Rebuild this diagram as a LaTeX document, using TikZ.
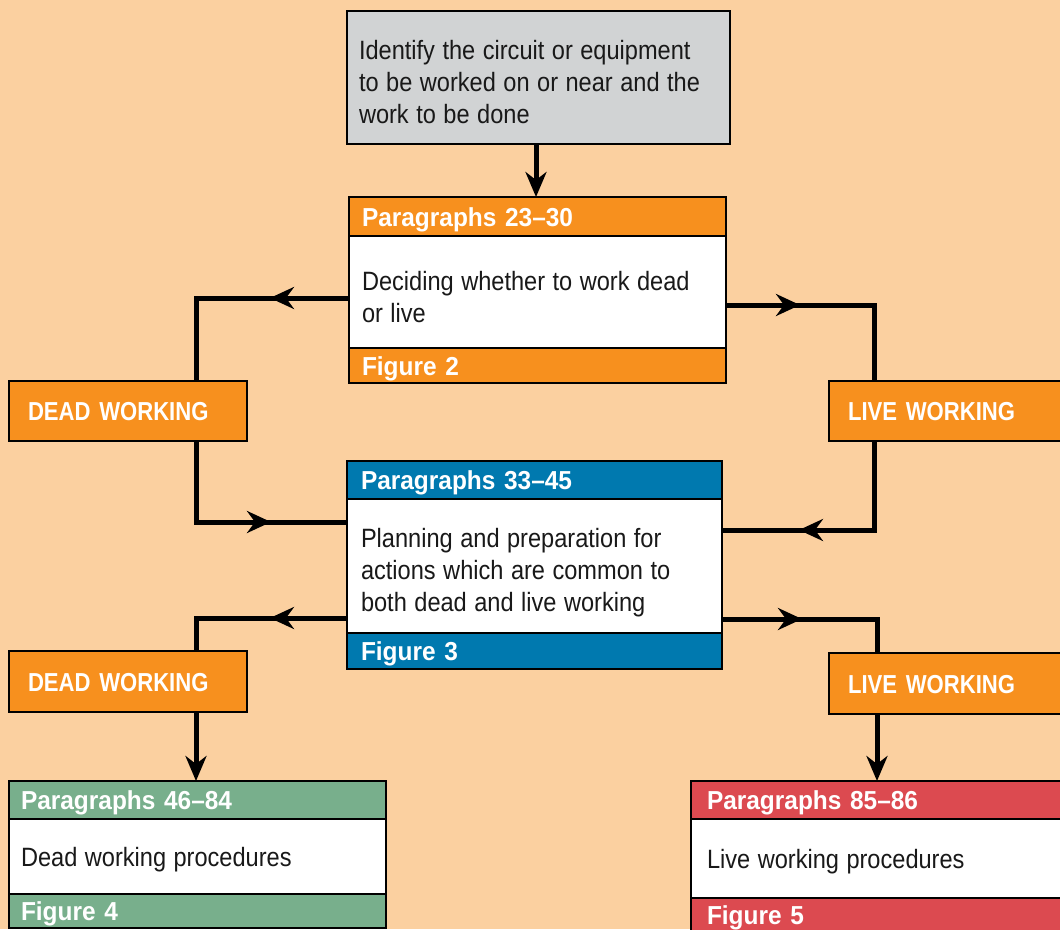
\documentclass[tikz,border=0pt]{standalone}
\usepackage{fontspec}
\setmainfont{Liberation Sans}[FakeStretch=0.89]
\newfontfamily\hdrfam{Liberation Sans}[FakeStretch=0.94]
\newfontfamily\capfam{Liberation Sans}[FakeStretch=0.85]
\usetikzlibrary{arrows.meta,decorations.markings}
\definecolor{bg}{HTML}{FBD0A0}
\definecolor{orng}{HTML}{F7901E}
\definecolor{gry}{HTML}{D1D3D4}
\definecolor{blu}{HTML}{0079AF}
\definecolor{grn}{HTML}{78AF8C}
\definecolor{redd}{HTML}{DC4A50}
\newcommand\mybody{\fontsize{26.5}{32}\selectfont}
\newcommand\myhdr{\hdrfam\fontsize{26}{30}\selectfont\bfseries}
\newcommand\mycap{\capfam\fontsize{26}{30}\selectfont\bfseries}
\newcommand\topstrut{\rule{0pt}{29pt}}
\tikzset{
  box/.style={draw=black, line width=2.5pt, anchor=north west, inner sep=0pt, outer sep=0pt, align=left},
  band/.style={box, fill=#1, text=white, font=\myhdr, text height=19pt, text depth=0pt, minimum height=38pt},
  capband/.style={band=orng, font=\mycap},
  body/.style={box, fill=white, text=black!90, font=\mybody,
    execute at begin node={\spaceskip=7.5pt plus 1pt minus 1pt\relax}},
  conn/.style={draw=black, line width=5pt},
  marr/.style={postaction={decorate, decoration={markings, mark=at position #1 with {\arrow{Stealth[length=24pt,width=22pt,inset=8pt]}}}}},
  endarr/.style={-{Stealth[length=25pt,width=21pt,inset=8pt]}}
}
\begin{document}
\begin{tikzpicture}[x=1pt,y=-1pt]
\useasboundingbox (0,0) rectangle (1060,929);
\clip (0,0) rectangle (1060,929);
\fill[bg] (0,0) rectangle (1060,929);

% top box
\node[body, fill=gry, minimum height=133pt, inner xsep=12pt, text width=359pt] (top) at (347,11)
  {\topstrut Identify the circuit or equipment\\to be worked on or near and the\\work to be done};

% box 1
\node[band=orng, inner xsep=13pt, text width=351pt, minimum height=39pt] (b1h) at (349,197) {Paragraphs 23–30};
\node[body, inner xsep=13pt, text width=351pt, minimum height=112pt] (b1) at (b1h.south west) {\topstrut Deciding whether to work dead\\or live};
\node[band=orng, inner xsep=13pt, text width=351pt, minimum height=35pt] (b1f) at (b1.south west) {Figure 2};

% working boxes
\node[capband, inner xsep=19pt, text width=200pt, minimum height=60pt] (d1) at (9,381) {DEAD WORKING};
\node[capband, inner xsep=19pt, text width=202pt, minimum height=60pt] (l1) at (829,381) {LIVE WORKING};

% box 2
\node[band=blu, inner xsep=14pt, text width=347pt, minimum height=38pt] (b2h) at (347,461) {Paragraphs 33–45};
\node[body, inner xsep=14pt, text width=347pt, minimum height=134pt] (b2) at (b2h.south west) {\rule{0pt}{33pt}Planning and preparation for\\actions which are common to\\both dead and live working};
\node[band=blu, inner xsep=14pt, text width=347pt, minimum height=36pt] (b2f) at (b2.south west) {Figure 3};

\node[capband, inner xsep=19pt, text width=200pt, minimum height=61pt] (d2) at (9,651) {DEAD WORKING};
\node[capband, inner xsep=19pt, text width=202pt, minimum height=61pt] (l2) at (829,653) {LIVE WORKING};

% green box
\node[band=grn, inner xsep=12pt, text width=353pt, minimum height=38pt] (gh) at (9,781) {Paragraphs 46–84};
\node[body, inner xsep=12pt, text width=353pt, minimum height=75pt, text height=19pt, text depth=0pt] (g) at (gh.south west) {Dead working procedures};
\node[band=grn, inner xsep=12pt, text width=353pt, minimum height=34pt] (gf) at (g.south west) {Figure 4};

% red box
\node[band=redd, inner xsep=16pt, text width=348pt, minimum height=38pt] (rh) at (691,781) {Paragraphs 85–86};
\node[body, inner xsep=16pt, text width=348pt, minimum height=79pt, text height=19pt, text depth=0pt] (r) at (rh.south west) {Live working procedures};
\node[band=redd, inner xsep=16pt, text width=348pt, minimum height=34pt] (rf) at (r.south west) {Figure 5};

% connectors
\draw[conn, endarr] (top.south -| 536,0) -- (b1h.north -| 536,0);
\draw[conn, marr=79pt] (b1.west |- 0,298) -| (d1.north -| 196,0);
\draw[conn, marr=74pt] (b1.east |- 0,305) -| (l1.north -| 874,0);
\draw[conn, marr=156pt] (d1.south -| 196,0) |- (b2.west |- 0,522);
\draw[conn, marr=164pt] (l1.south -| 874,0) |- (b2.east |- 0,530);
\draw[conn, marr=77pt] (b2.west |- 0,618) -| (d2.north -| 196,0);
\draw[conn, marr=80pt] (b2.east |- 0,619) -| (l2.north -| 877,0);
\draw[conn, endarr] (d2.south -| 196,0) -- (gh.north -| 196,0);
\draw[conn, endarr] (l2.south -| 877,0) -- (rh.north -| 877,0);
\end{tikzpicture}
\end{document}
